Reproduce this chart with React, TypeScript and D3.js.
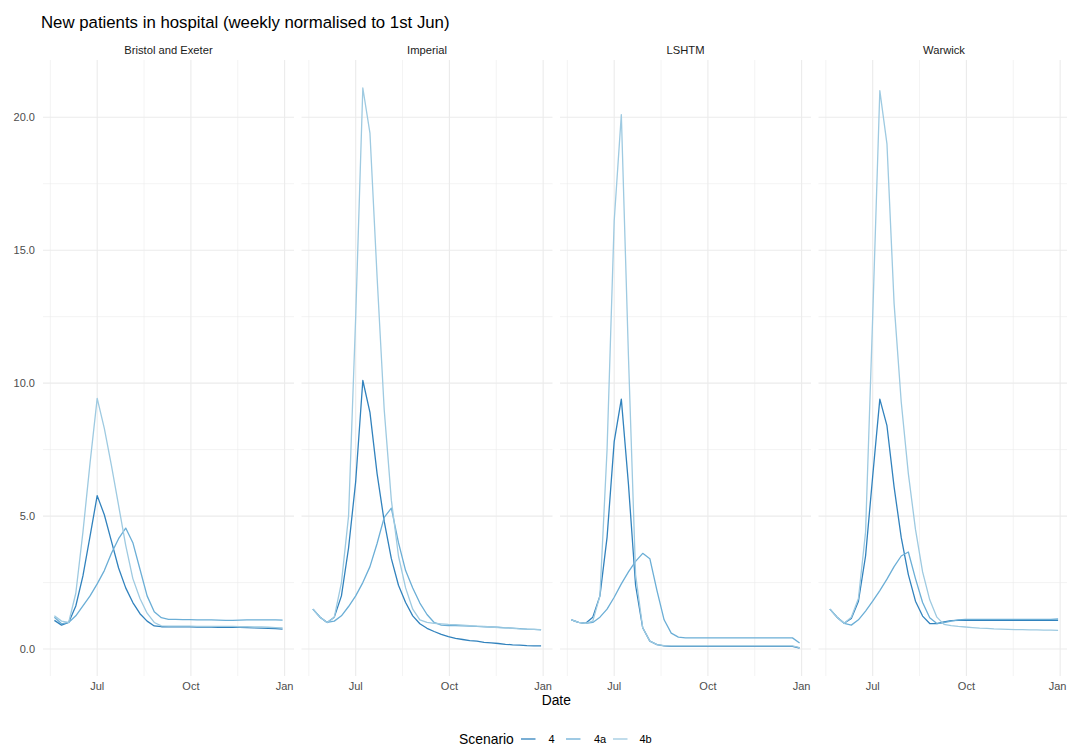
import React, { useEffect, useRef } from "react";
import * as d3 from "d3";

// weekly points
const dates = [
  "2020-05-20", "2020-05-27", "2020-06-03", "2020-06-10", "2020-06-17", "2020-06-24",
  "2020-07-01", "2020-07-08", "2020-07-15", "2020-07-22", "2020-07-29", "2020-08-05",
  "2020-08-12", "2020-08-19", "2020-08-26", "2020-09-02", "2020-09-09", "2020-09-16",
  "2020-09-23", "2020-09-30", "2020-10-07", "2020-10-14", "2020-10-21", "2020-10-28",
  "2020-11-04", "2020-11-11", "2020-11-18", "2020-11-25", "2020-12-02", "2020-12-09",
  "2020-12-16", "2020-12-23", "2020-12-30",
];

const panels = ["Bristol and Exeter", "Imperial", "LSHTM", "Warwick"];
const scenarios = ["4", "4a", "4b"];
const colours = ["#3182bd", "#6baed6", "#9ecae1"];

const bristol4 = [1.08, 0.9, 1.0, 1.62, 2.75, 4.25, 5.77, 5.05, 4.05, 3.05, 2.3, 1.75, 1.33, 1.05, 0.87, 0.84, 0.84, 0.84, 0.84, 0.84, 0.83, 0.83, 0.83, 0.82, 0.82, 0.83, 0.82, 0.81, 0.8, 0.79, 0.78, 0.77, 0.75];
const bristol4a = [1.2, 0.95, 1.0, 1.25, 1.62, 2.0, 2.45, 2.95, 3.6, 4.15, 4.55, 4.0, 3.0, 2.0, 1.4, 1.18, 1.12, 1.12, 1.11, 1.11, 1.1, 1.1, 1.1, 1.09, 1.08, 1.08, 1.09, 1.1, 1.1, 1.1, 1.1, 1.1, 1.09];
const bristol4b = [1.25, 1.05, 1.0, 2.1, 4.4, 7.0, 9.43, 8.3, 6.9, 5.4, 3.9, 2.65, 1.9, 1.35, 1.0, 0.87, 0.86, 0.86, 0.86, 0.86, 0.85, 0.85, 0.85, 0.85, 0.85, 0.85, 0.84, 0.84, 0.83, 0.83, 0.82, 0.81, 0.8];

const imperial4 = [1.5, 1.2, 1.0, 1.2, 2.0, 3.8, 6.3, 10.1, 8.9, 6.6, 4.8, 3.4, 2.4, 1.75, 1.25, 0.95, 0.78, 0.66, 0.55, 0.47, 0.4, 0.36, 0.32, 0.3, 0.25, 0.23, 0.21, 0.18, 0.16, 0.15, 0.13, 0.12, 0.12];
const imperial4a = [1.5, 1.2, 1.0, 1.05, 1.25, 1.6, 2.0, 2.5, 3.1, 3.97, 4.95, 5.3, 4.0, 2.95, 2.3, 1.73, 1.3, 1.0, 0.9, 0.88, 0.88, 0.87, 0.86, 0.85, 0.84, 0.83, 0.82, 0.8, 0.79, 0.77, 0.75, 0.74, 0.72];
const imperial4b = [1.5, 1.2, 1.0, 1.2, 2.5, 5.0, 12.5, 21.1, 19.4, 14.0, 9.0, 5.6, 3.5, 2.3, 1.5, 1.1, 1.0, 0.97, 0.95, 0.93, 0.92, 0.9, 0.88, 0.86, 0.85, 0.83, 0.81, 0.8, 0.78, 0.76, 0.75, 0.74, 0.73];

const lshtm4 = [1.1, 1.0, 0.97, 1.2, 2.0, 4.2, 7.8, 9.4, 6.2, 2.4, 0.8, 0.3, 0.17, 0.12, 0.1, 0.1, 0.1, 0.1, 0.1, 0.1, 0.1, 0.1, 0.1, 0.1, 0.1, 0.1, 0.1, 0.1, 0.1, 0.1, 0.1, 0.1, 0.04];
const lshtm4a = [1.1, 1.0, 0.97, 1.0, 1.2, 1.5, 1.95, 2.45, 2.9, 3.3, 3.6, 3.4, 2.2, 1.1, 0.6, 0.45, 0.42, 0.42, 0.42, 0.42, 0.42, 0.42, 0.42, 0.42, 0.42, 0.42, 0.42, 0.42, 0.42, 0.42, 0.42, 0.42, 0.23];
const lshtm4b = [1.1, 1.0, 0.97, 1.05, 2.0, 7.5, 16.1, 20.1, 11.0, 2.8, 0.8, 0.3, 0.17, 0.13, 0.12, 0.12, 0.12, 0.12, 0.12, 0.12, 0.12, 0.12, 0.12, 0.12, 0.12, 0.12, 0.12, 0.12, 0.12, 0.12, 0.12, 0.12, 0.05];

const warwick4 = [1.5, 1.2, 0.97, 1.15, 1.8, 3.5, 6.5, 9.4, 8.4, 6.1, 4.2, 2.8, 1.8, 1.24, 0.96, 0.96, 1.02, 1.07, 1.08, 1.08, 1.08, 1.08, 1.08, 1.08, 1.08, 1.08, 1.08, 1.08, 1.08, 1.08, 1.08, 1.08, 1.08];
const warwick4a = [1.5, 1.2, 0.97, 0.9, 1.1, 1.43, 1.8, 2.2, 2.63, 3.1, 3.5, 3.65, 2.65, 1.75, 1.18, 0.96, 0.99, 1.05, 1.1, 1.12, 1.12, 1.12, 1.12, 1.12, 1.12, 1.12, 1.12, 1.12, 1.12, 1.12, 1.12, 1.12, 1.13];
const warwick4b = [1.5, 1.2, 0.97, 1.2, 1.9, 4.4, 12.5, 21.0, 19.0, 13.0, 9.3, 6.6, 4.5, 2.9, 1.85, 1.2, 0.93, 0.88, 0.85, 0.83, 0.81, 0.79, 0.78, 0.76, 0.75, 0.74, 0.73, 0.73, 0.72, 0.72, 0.71, 0.71, 0.7];

const panelSeries = [
  [bristol4, bristol4a, bristol4b],
  [imperial4, imperial4a, imperial4b],
  [lshtm4, lshtm4a, lshtm4b],
  [warwick4, warwick4a, warwick4b],
];

const FONT = "'Liberation Sans', Arial, Helvetica, sans-serif";
const WIDTH = 1067;
const HEIGHT = 747;

const App = () => {
  const svgRef = useRef<SVGSVGElement>(null);

  useEffect(() => {
    const svg = d3.select(svgRef.current);
    svg.selectAll("*").remove();

    const left = 43;
    const top = 60;
    const panelW = 251;
    const panelH = 616;
    const gap = 7.5;
    const grid = "#ebebeb";

    const parsed = dates.map((d) => d3.timeParse("%Y-%m-%d")(d) as Date);

    // ggplot style 5% expansion
    const [d0, d1] = d3.extent(parsed) as [Date, Date];
    const xPad = (+d1 - +d0) * 0.05;
    const x = d3
      .scaleTime()
      .domain([new Date(+d0 - xPad), new Date(+d1 + xPad)])
      .range([0, panelW]);

    const allVals = panelSeries.flat(2);
    const [v0, v1] = d3.extent(allVals) as [number, number];
    const yPad = (v1 - v0) * 0.05;
    const y = d3
      .scaleLinear()
      .domain([v0 - yPad, v1 + yPad])
      .range([panelH, 0]);

    const yMajor = y.ticks(5);
    const yMinor = yMajor.slice(0, -1).map((v, i) => (v + yMajor[i + 1]) / 2);

    const xMajor = x.ticks(d3.timeMonth.every(3) as d3.TimeInterval);
    const xMinor: Date[] = [];
    const step = +xMajor[1] - +xMajor[0];
    [new Date(+xMajor[0] - step / 2)]
      .concat(xMajor.slice(0, -1).map((d, i) => new Date((+d + +xMajor[i + 1]) / 2)))
      .concat([new Date(+xMajor[xMajor.length - 1] + step / 2)])
      .forEach((d) => {
        if (d >= x.domain()[0] && d <= x.domain()[1]) xMinor.push(d);
      });

    // title
    svg
      .append("text")
      .attr("x", 41)
      .attr("y", 28)
      .attr("font-family", FONT)
      .attr("font-size", 16.8)
      .attr("fill", "#000")
      .text("New patients in hospital (weekly normalised to 1st Jun)");

    const line = d3
      .line<number>()
      .x((_, i) => x(parsed[i]))
      .y((d) => y(d));

    panels.forEach((name, p) => {
      const offsetX = left + p * (panelW + gap);
      const g = svg.append("g").attr("transform", `translate(${offsetX},${top})`);

      // minor grid
      g.selectAll(".ymin")
        .data(yMinor)
        .join("line")
        .attr("x1", 0)
        .attr("x2", panelW)
        .attr("y1", (d) => y(d))
        .attr("y2", (d) => y(d))
        .attr("stroke", grid)
        .attr("stroke-width", 0.6);
      g.selectAll(".xmin")
        .data(xMinor)
        .join("line")
        .attr("x1", (d) => x(d))
        .attr("x2", (d) => x(d))
        .attr("y1", 0)
        .attr("y2", panelH)
        .attr("stroke", grid)
        .attr("stroke-width", 0.6);

      // major grid
      g.selectAll(".ymaj")
        .data(yMajor)
        .join("line")
        .attr("x1", 0)
        .attr("x2", panelW)
        .attr("y1", (d) => y(d))
        .attr("y2", (d) => y(d))
        .attr("stroke", grid)
        .attr("stroke-width", 1.1);
      g.selectAll(".xmaj")
        .data(xMajor)
        .join("line")
        .attr("x1", (d) => x(d))
        .attr("x2", (d) => x(d))
        .attr("y1", 0)
        .attr("y2", panelH)
        .attr("stroke", grid)
        .attr("stroke-width", 1.1);

      // series
      panelSeries[p].forEach((vals, s) => {
        g.append("path")
          .datum(vals)
          .attr("d", line)
          .attr("fill", "none")
          .attr("stroke", colours[s])
          .attr("stroke-width", 1.3)
          .attr("stroke-linejoin", "round");
      });

      // strip label
      g.append("text")
        .attr("x", panelW / 2)
        .attr("y", -6.5)
        .attr("text-anchor", "middle")
        .attr("font-family", FONT)
        .attr("font-size", 11.2)
        .attr("fill", "#1a1a1a")
        .text(name);

      // x tick labels (keep the last one inside the picture)
      g.selectAll(".xlab")
        .data(xMajor)
        .join("text")
        .attr("x", (d) => Math.min(x(d), WIDTH - offsetX - 9.5))
        .attr("y", panelH + 13.5)
        .attr("text-anchor", "middle")
        .attr("font-family", FONT)
        .attr("font-size", 11)
        .attr("fill", "#4d4d4d")
        .text((d) => d3.timeFormat("%b")(d));

      if (p === 0) {
        g.selectAll(".ylab")
          .data(yMajor)
          .join("text")
          .attr("x", -8)
          .attr("y", (d) => y(d) + 4)
          .attr("text-anchor", "end")
          .attr("font-family", FONT)
          .attr("font-size", 11)
          .attr("fill", "#4d4d4d")
          .text((d) => d3.format(".1f")(d));
      }
    });

    // axis title
    const totalW = 4 * panelW + 3 * gap;
    svg
      .append("text")
      .attr("x", left + totalW / 2)
      .attr("y", 705)
      .attr("text-anchor", "middle")
      .attr("font-family", FONT)
      .attr("font-size", 13.8)
      .attr("fill", "#000")
      .text("Date");

    // legend
    const legend = svg.append("g").attr("transform", "translate(0,739)");
    legend
      .append("text")
      .attr("x", 459)
      .attr("y", 4.8)
      .attr("font-family", FONT)
      .attr("font-size", 13.9)
      .attr("fill", "#000")
      .text("Scenario");
    const keyX = [521, 566, 613];
    const labelX = [548.5, 594, 639.5];
    scenarios.forEach((s, i) => {
      legend
        .append("line")
        .attr("x1", keyX[i])
        .attr("x2", keyX[i] + 14.5)
        .attr("y1", 0)
        .attr("y2", 0)
        .attr("stroke", colours[i])
        .attr("stroke-width", 1.3);
      legend
        .append("text")
        .attr("x", labelX[i])
        .attr("y", 3.8)
        .attr("font-family", FONT)
        .attr("font-size", 11)
        .attr("fill", "#000")
        .text(s);
    });
  }, []);

  return (
    <svg
      ref={svgRef}
      width={WIDTH}
      height={HEIGHT}
      style={{ position: "absolute", left: 0, top: 0, background: "#fff" }}
    ></svg>
  );
};

export default App;
